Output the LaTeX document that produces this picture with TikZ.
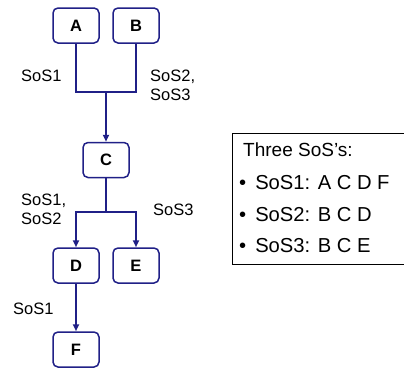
\documentclass[tikz,border=0pt]{standalone}
\usepackage{fontspec}
\setmainfont{Liberation Sans}
\usetikzlibrary{arrows.meta}
\definecolor{navy}{RGB}{32,32,135}
\begin{document}
\begin{tikzpicture}[x=1pt,y=-1pt,
  sysbox/.style={draw=navy,line width=1.5pt,rounded corners=5pt,minimum width=46pt,minimum height=35pt,inner sep=0pt,font=\fontsize{16.5}{19}\selectfont\bfseries,fill=white},
  conn/.style={draw=navy,line width=2pt},
  arr/.style={conn,-{Triangle[length=7pt,width=6pt]}},
  lbl/.style={font=\fontsize{16.5}{19}\selectfont,align=left,inner sep=0pt},
  leg/.style={font=\fontsize{19}{22}\selectfont,inner sep=0pt,anchor=base west},
  legitem/.style={leg,font=\fontsize{20.2}{23}\selectfont}]
\useasboundingbox[fill=white] (0,0) rectangle (404,367);
\node[sysbox] (A) at (76,25.5) {A};
\node[sysbox] (B) at (136,25.5) {B};
\node[sysbox] (C) at (106,160) {C};
\node[sysbox] (D) at (76,265.5) {D};
\node[sysbox] (E) at (136,265.5) {E};
\node[sysbox] (F) at (76,349.5) {F};
\coordinate (j1) at (106,92);
\coordinate (j2) at (106,212);
\draw[conn] (A.south) |- (j1) -| (B.south);
\draw[arr] (j1) -- (C.north);
\draw[conn] (C.south) -- (j2);
\draw[arr] (j2) -| (D.north);
\draw[arr] (j2) -| (E.north);
\draw[arr] (D.south) -- (F.north);
\node[lbl,anchor=west] (l1) at (21,76) {SoS1};
\node[lbl,anchor=west] (l2) at (150,85) {SoS2,\\SoS3};
\node[lbl,anchor=west] (l3) at (21,209) {SoS1,\\SoS2};
\node[lbl,anchor=west] (l4) at (153,210) {SoS3};
\node[lbl,anchor=west] (l5) at (13,309) {SoS1};
\draw[black,line width=0.8pt] (420,133) -- (232,133) -- (232,264) -- (420,264);
\node[leg] (t0) at (243,156) {Three SoS's:};
\node[legitem] (t1) at (239,189) {•\hspace{9pt}SoS1: A C D F};
\node[legitem] (t2) at (239,221) {•\hspace{9pt}SoS2: B C D};
\node[legitem] (t3) at (239,252) {•\hspace{9pt}SoS3: B C E};
\end{tikzpicture}
\end{document}
